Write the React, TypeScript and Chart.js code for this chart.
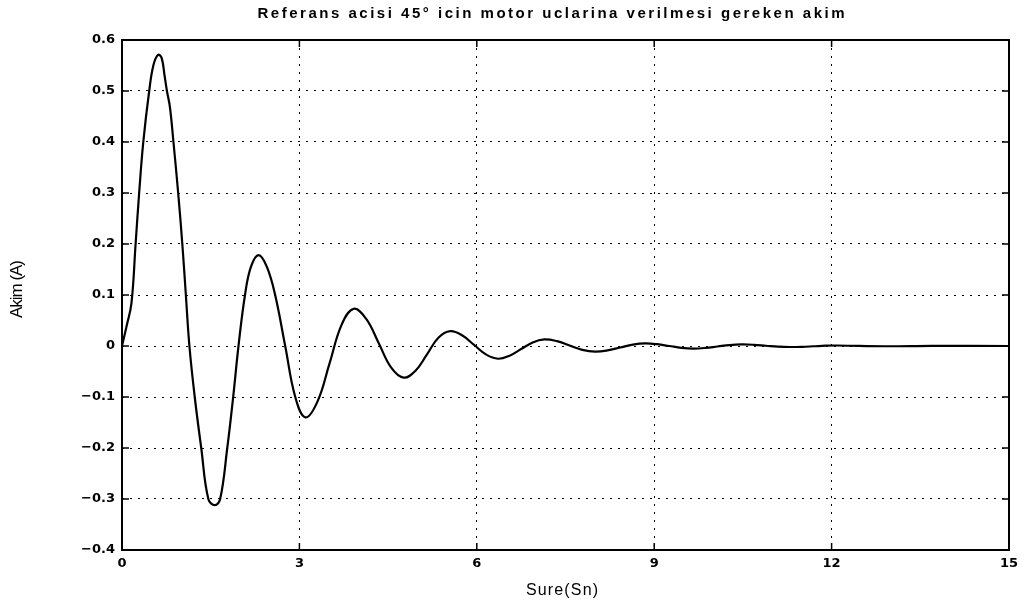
import React, { useEffect, useRef } from 'react';
import { Chart, registerables } from 'chart.js';

Chart.register(...registerables);

// ---- data ----
const timeSec = [
  0, 0.08, 0.16, 0.23, 0.29, 0.36, 0.46, 0.53, 0.61, 0.67, 0.72, 0.76, 0.81, 0.87, 0.95,
  1.02, 1.08, 1.14, 1.23, 1.34, 1.46, 1.57, 1.66, 1.78, 1.88, 1.97, 2.08, 2.18, 2.31, 2.45,
  2.59, 2.76, 2.93, 3.1, 3.305, 3.51, 3.715, 3.92, 4.13, 4.34, 4.55, 4.76, 4.96, 5.155, 5.35,
  5.55, 5.75, 5.955, 6.16, 6.36, 6.555, 6.75, 6.945, 7.14, 7.355, 7.57, 7.785, 8.0, 8.21, 8.425,
  8.64, 8.85, 9.05, 9.255, 9.46, 9.66, 9.865, 10.07, 10.275, 10.48, 10.685, 10.89, 11.095, 11.3, 11.5,
  11.7, 11.9, 12.1, 12.9, 13.7, 15.0,
];
const currentA = [
  0, 0.04, 0.084, 0.2, 0.3, 0.4, 0.5, 0.55, 0.571, 0.565, 0.53, 0.5, 0.469, 0.4, 0.3,
  0.2, 0.1, 0, -0.1, -0.2, -0.3, -0.312, -0.3, -0.2, -0.1, 0, 0.1, 0.155, 0.178, 0.155,
  0.1, 0, -0.1, -0.14, -0.109, -0.034, 0.042, 0.073, 0.053, 0.006, -0.042, -0.062, -0.049, -0.017, 0.016,
  0.029, 0.021, 0.002, -0.017, -0.025, -0.019, -0.006, 0.007, 0.013, 0.0095, 0.001, -0.0075, -0.011, -0.0087, -0.003,
  0.0027, 0.005, 0.0035, 0, -0.0035, -0.005, -0.0038, -0.001, 0.0018, 0.003, 0.0023, 0.0005, -0.0013, -0.002, -0.0016,
  -0.0005, 0.0006, 0.001, -0.0005, 0.0003, 0,
];
const xTickValues = [0, 3, 6, 9, 12, 15];
const yTickValues = [-0.4, -0.3, -0.2, -0.1, 0, 0.1, 0.2, 0.3, 0.4, 0.5, 0.6];
const titleText = 'Referans acisi 45° icin motor uclarina verilmesi gereken akim';
const xAxisTitle = 'Sure(Sn)';
const yAxisTitle = 'Akim (A)';

function drawFitted(ctx: CanvasRenderingContext2D, text: string, cx: number, cy: number, target: number, font: string) {
  ctx.font = font;
  const anyCtx = ctx as any;
  if ('letterSpacing' in anyCtx) anyCtx.letterSpacing = '0px';
  const w = ctx.measureText(text).width;
  let ls = 0;
  if ('letterSpacing' in anyCtx && text.length > 1) {
    ls = (target - w) / (text.length - 1);
    anyCtx.letterSpacing = ls + 'px';
  }
  ctx.textAlign = 'left';
  ctx.textBaseline = 'middle';
  const total = w + ls * (text.length - 1);
  ctx.fillText(text, cx - total / 2, cy);
  if ('letterSpacing' in anyCtx) anyCtx.letterSpacing = '0px';
}

const matlabFrame = {
  id: 'matlabFrame',
  afterDraw(chart: any) {
    const { ctx, chartArea: a, scales } = chart;
    ctx.save();
    ctx.strokeStyle = '#000';
    ctx.fillStyle = '#000';
    ctx.lineWidth = 2;
    ctx.strokeRect(a.left, a.top, a.right - a.left, a.bottom - a.top);
    ctx.lineWidth = 1.5;
    ctx.beginPath();
    for (const v of xTickValues) {
      const px = scales.x.getPixelForValue(v);
      ctx.moveTo(px, a.bottom);
      ctx.lineTo(px, a.bottom - 7);
      ctx.moveTo(px, a.top);
      ctx.lineTo(px, a.top + 7);
    }
    for (const v of yTickValues) {
      const py = scales.y.getPixelForValue(v);
      ctx.moveTo(a.left, py);
      ctx.lineTo(a.left + 7, py);
      ctx.moveTo(a.right, py);
      ctx.lineTo(a.right - 7, py);
    }
    ctx.stroke();

    drawFitted(ctx, titleText, 551, 14, 587, 'bold 15px "Liberation Sans", Arial, sans-serif');
    drawFitted(ctx, xAxisTitle, 562, 591, 72, '16px "Liberation Sans", Arial, sans-serif');
    ctx.save();
    ctx.translate(17, 289);
    ctx.rotate(-Math.PI / 2);
    drawFitted(ctx, yAxisTitle, 0, 0, 58, '17px "Liberation Sans Narrow", "Liberation Sans", Arial, sans-serif');
    ctx.restore();
    ctx.restore();
  },
};

export default function App() {
  const canvasRef = useRef<HTMLCanvasElement | null>(null);

  useEffect(() => {
    document.body.style.margin = '0';
    const canvas = canvasRef.current;
    if (!canvas) return;
    const points = timeSec.map((t, i) => ({ x: t, y: currentA[i] }));
    const tickFont = { family: '"DejaVu Sans", sans-serif', size: 13, weight: 'bold' as const };
    const chart = new Chart(canvas, {
      type: 'line',
      data: {
        datasets: [
          {
            data: points,
            borderColor: '#000',
            borderWidth: 2.2,
            pointRadius: 0,
            fill: false,
            tension: 0.4,
          },
        ],
      },
      plugins: [matlabFrame],
      options: {
        responsive: false,
        animation: false,
        devicePixelRatio: 1,
        layout: { padding: { left: 0, top: 40, right: 18, bottom: 0 } },
        plugins: {
          legend: { display: false },
          title: { display: false },
          tooltip: { enabled: false },
        },
        scales: {
          x: {
            type: 'linear',
            min: 0,
            max: 15,
            afterBuildTicks: (s: any) => {
              s.ticks = xTickValues.map((v) => ({ value: v }));
            },
            afterFit: (s: any) => {
              s.height = 60;
            },
            ticks: {
              autoSkip: false,
              maxRotation: 0,
              padding: 6,
              color: '#000',
              font: tickFont,
              callback: (v: any) => String(v),
            },
            grid: { color: '#000', lineWidth: 1, drawTicks: false },
            border: { display: false, dash: [2, 6] },
          },
          y: {
            type: 'linear',
            min: -0.4,
            max: 0.6,
            afterBuildTicks: (s: any) => {
              s.ticks = yTickValues.map((v) => ({ value: v }));
            },
            afterFit: (s: any) => {
              s.width = 122;
            },
            ticks: {
              autoSkip: false,
              padding: 7,
              color: '#000',
              font: tickFont,
              callback: (v: any) => {
                const n = Math.round(Number(v) * 10) / 10;
                if (n === 0) return '0';
                return (n < 0 ? '\u2212' : '') + Math.abs(n).toFixed(1);
              },
            },
            grid: { color: '#000', lineWidth: 1, drawTicks: false },
            border: { display: false, dash: [2, 6] },
          },
        },
      },
    } as any);
    return () => chart.destroy();
  }, []);

  return (
    <div style={{ width: 1027, height: 610 }}>
      <canvas ref={canvasRef} width={1027} height={610} style={{ display: 'block' }} />
    </div>
  );
}
